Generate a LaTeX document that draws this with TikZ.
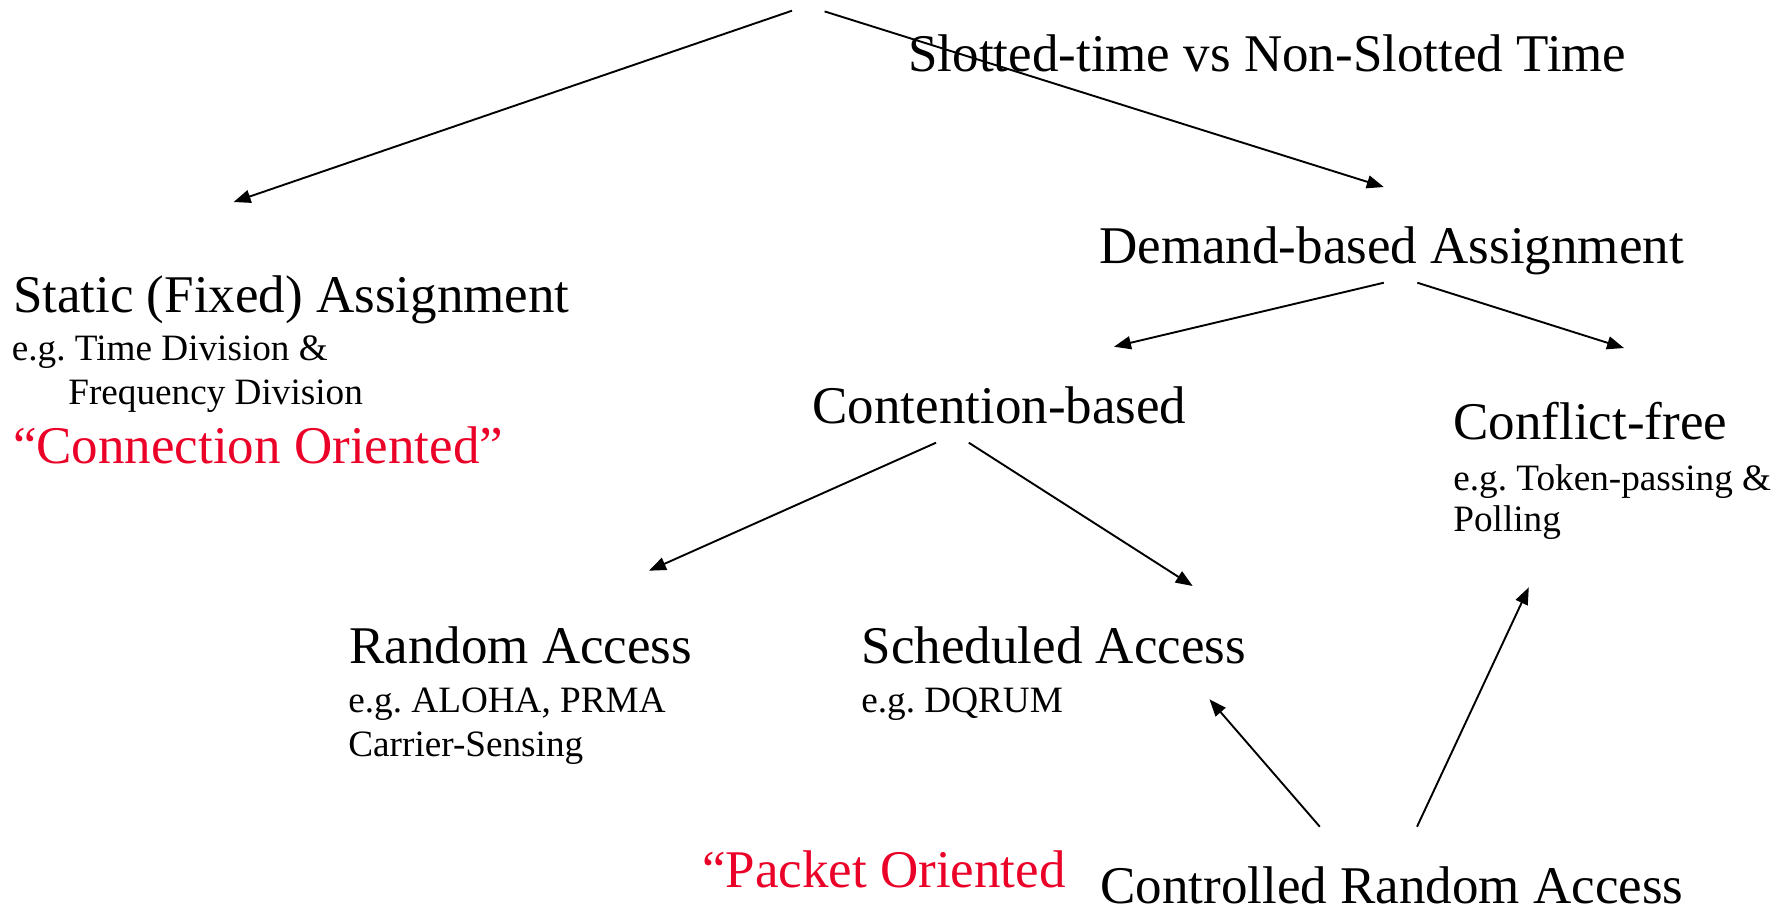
\documentclass[tikz,border=0pt]{standalone}
\usepackage{fontspec}
\setmainfont{Liberation Serif}
\usepackage{xcolor}
\usepackage{tikz}
\usetikzlibrary{arrows.meta, positioning, calc}

\definecolor{orientred}{RGB}{235,0,40}
\frenchspacing

\begin{document}
\begin{tikzpicture}[
    x=0.5pt, y=-0.5pt,
    title/.style={anchor=base west, inner sep=0pt,
        font=\fontsize{26.5}{30}\selectfont},
    note/.style={anchor=base west, inner sep=0pt,
        font=\fontsize{18.6}{22}\selectfont},
    orient/.style={title, text=orientred},
    arr/.style={-{Triangle[length=8.5pt, width=6.5pt]}, line width=0.95pt},
]
\useasboundingbox (0,0) rectangle (1786,907);

% ---- Top level ----
\node[title] (slot) at (908,71.5) {Slotted-time vs Non-Slotted Time};
\node[title] (static) at (12.6,312) {Static (Fixed) Assignment};
\node[note] (staticeg) at (11.5,360) {e.g. Time Division \&};
\node[note] (staticeg2) at ($(staticeg.base west)+(56.5,44)$)
    {Frequency Division};
\node[orient] (conn) at (12.6,463) {``Connection Oriented''};
\node[title] (demand) at (1099,263) {Demand-based Assignment};

% ---- Demand-based branch ----
\node[title] (content) at (812,423) {Contention-based};
\node[title] (conflict) at (1453,439) {Conflict-free};
\node[note] (conflicteg) at (1453,490) {e.g. Token-passing \&};
\node[note] (conflicteg2) at ($(conflicteg.base west)+(0,41)$) {Polling};

% ---- Contention-based branch ----
\node[title] (random) at (348.8,663) {Random Access};
\node[note] (randomeg) at (348,712.7) {e.g. ALOHA, PRMA};
\node[note] (randomeg2) at ($(randomeg.base west)+(0,44)$)
    {Carrier-Sensing};
\node[title] (sched) at (861.4,663) {Scheduled Access};
\node[note] (schedeg) at (861,712.7) {e.g. DQRUM};

% ---- Bottom row ----
\node[orient] (packet) at (701.7,887) {``Packet Oriented};
\node[title] (ctrl) at (1100,903) {Controlled Random Access};

% arrow end points (arrows stop short of the texts)
\coordinate (top-l)   at (792,10.7);
\coordinate (top-r)   at (824.6,11.4);
\coordinate (static-in) at (233.6,202);
\coordinate (dem-in)  at (1383.8,187);
\coordinate (dem-l)   at (1383.8,282.7);
\coordinate (dem-r)   at (1417.3,282.7);
\coordinate (cont-in) at (1114,346.7);
\coordinate (conf-in) at (1624,348);
\coordinate (cont-l)  at (936,442.7);
\coordinate (cont-r)  at (968.8,442.7);
\coordinate (rand-in) at (649,570.7);
\coordinate (sch-in)  at (1192.7,586);
\coordinate (ctrl-l)  at (1319.8,826.7);
\coordinate (ctrl-r)  at (1417,826.7);
\coordinate (sch-up)  at (1209.5,699.3);
\coordinate (conf-up) at (1528.8,587.3);

% ---- Arrows ----
\draw[arr] (top-l) -- (static-in);
\draw[arr] (top-r) -- (dem-in);
\draw[arr] (dem-l) -- (cont-in);
\draw[arr] (dem-r) -- (conf-in);
\draw[arr] (cont-l) -- (rand-in);
\draw[arr] (cont-r) -- (sch-in);
\draw[arr] (ctrl-l) -- (sch-up);
\draw[arr] (ctrl-r) -- (conf-up);

\end{tikzpicture}
\end{document}
